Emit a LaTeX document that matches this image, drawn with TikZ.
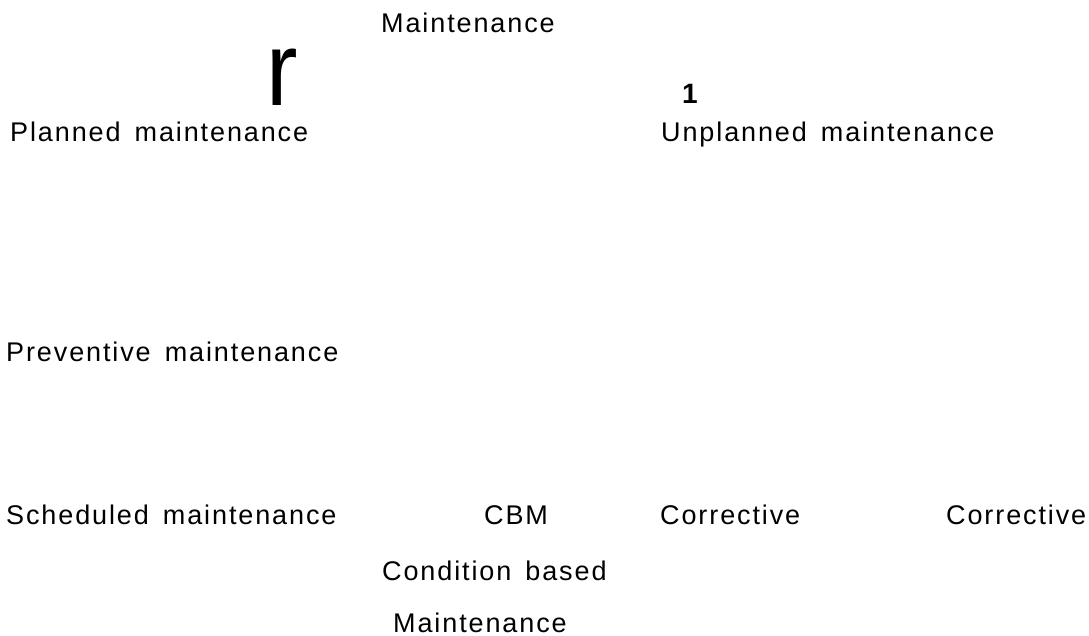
\documentclass[tikz,border=0pt]{standalone}
\usepackage{fontspec}
\setmainfont{Liberation Sans}[LetterSpace=7, WordSpace=1.5]
\begin{document}
\begin{tikzpicture}[x=1pt,y=-1pt,
  lbl/.style={anchor=base west, inner sep=0pt, text=black,
              font=\fontsize{27}{30}\selectfont},
  bigglyph/.style={anchor=base west, inner sep=0pt, text=black,
              font=\fontsize{105}{110}\selectfont},
  digit/.style={anchor=base west, inner sep=0pt, text=black,
              font=\fontsize{28}{30}\selectfont\bfseries}]
\useasboundingbox[fill=white] (0,0) rectangle (1089,636);

% top level
\node[lbl] (root) at (381,32.3) {Maintenance};
\node[bigglyph] (glyph) at (266,106) {\scalebox{0.9}[1]{r}};
\node[digit] (one) at (682,104) {1};

% second level
\node[lbl] (planned) at (10,141.7) {Planned maintenance};
\node[lbl] (unplanned) at (661,141.7) {Unplanned maintenance};

% third level
\node[lbl] (preventive) at (6,361) {Preventive maintenance};

% leaves
\node[lbl] (scheduled) at (6,524.5) {Scheduled maintenance};
\node[lbl] (cbm) at (484,524.5) {CBM};
\node[lbl] (corrA) at (660,524.5) {Corrective};
\node[lbl] (corrB) at (946,524.5) {Corrective};
\node[lbl] (cond) at (382,580) {Condition based};
\node[lbl] (condb) at (393,632) {Maintenance};
\end{tikzpicture}
\end{document}
